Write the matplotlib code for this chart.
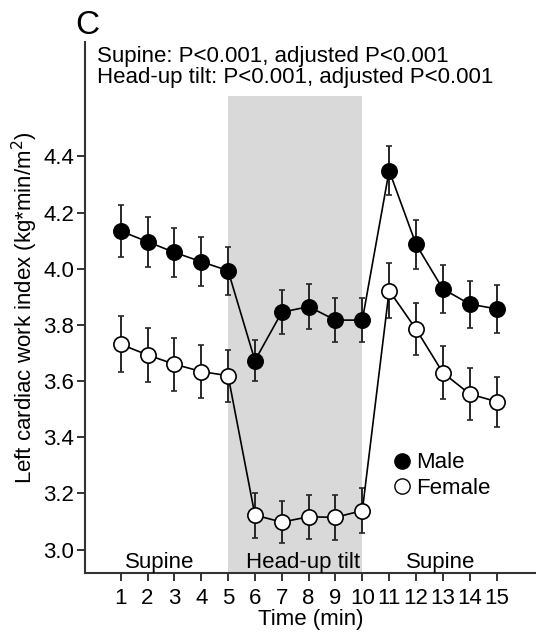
import numpy as np
import matplotlib.pyplot as plt
from matplotlib.lines import Line2D

plt.rcParams['font.family'] = ['Liberation Sans', 'DejaVu Sans']

# Dados
tempo = np.arange(1, 16)
masc = [4.134, 4.096, 4.058, 4.025, 3.993, 3.673, 3.845, 3.865, 3.817, 3.817,
        4.349, 4.087, 3.928, 3.874, 3.857]
masc_err = [0.092, 0.089, 0.088, 0.087, 0.085, 0.074, 0.078, 0.079, 0.079, 0.079,
            0.087, 0.088, 0.086, 0.084, 0.085]
fem = [3.731, 3.693, 3.660, 3.634, 3.619, 3.123, 3.098, 3.117, 3.115, 3.139,
       3.922, 3.785, 3.630, 3.554, 3.527]
fem_err = [0.099, 0.095, 0.095, 0.095, 0.093, 0.080, 0.076, 0.078, 0.080, 0.080,
           0.098, 0.093, 0.094, 0.092, 0.089]

yticks = [3.0, 3.2, 3.4, 3.6, 3.8, 4.0, 4.2, 4.4]
tilt_ini, tilt_fim, tilt_topo = 5, 10, 4.615
fases = ['Supine', 'Head-up tilt', 'Supine']
fases_x = [2.45, 7.8, 12.92]

fig = plt.figure(figsize=(5.36, 6.34), dpi=100)
ax = fig.add_axes([0.1586, 0.0967, 0.8414, 0.8371])
ymin, ymax = 2.918, 4.807
ax.set_xlim(-0.33, 16.47)
ax.set_ylim(ymin, ymax)

# faixa cinza (head-up tilt)
ax.fill_between([tilt_ini, tilt_fim], ymin, tilt_topo, color='#d9d9d9', lw=0, zorder=0)

estilo = dict(color='black', lw=1.2, ms=11, mew=1.2, capsize=2, elinewidth=1.4,
              capthick=1.2, ecolor='#262626', zorder=3)
ax.errorbar(tempo, masc, yerr=masc_err, fmt='-o', mfc='black', mec='black', **estilo)
ax.errorbar(tempo, fem, yerr=fem_err, fmt='-o', mfc='white', mec='black', **estilo)

ax.set_xticks(tempo)
ax.set_yticks(yticks)
ax.set_yticklabels(['%.1f' % v for v in yticks])
ax.tick_params(axis='both', direction='out', length=5.5, width=1.4, labelsize=16, color='#333333')
ax.tick_params(axis='x', pad=5.7)
ax.tick_params(axis='y', pad=2.2)
for s in ['top', 'right']:
    ax.spines[s].set_visible(False)
for s in ['left', 'bottom']:
    ax.spines[s].set_linewidth(1.5)
    ax.spines[s].set_color('#333333')

ax.set_xlabel('Time (min)', fontsize=16, labelpad=-0.5)
ax.set_ylabel('Left cardiac work index (kg*min/m$^2$)', fontsize=16, labelpad=2.5)

for nome, xf in zip(fases, fases_x):
    ax.text(xf, 2.934, nome, fontsize=16, ha='center', va='baseline')

ax.text(0.12, 4.736, 'Supine: P<0.001, adjusted P<0.001', fontsize=16, va='baseline')
ax.text(0.12, 4.661, 'Head-up tilt: P<0.001, adjusted P<0.001', fontsize=16, va='baseline')
fig.text(0.14, 0.96, 'C', fontsize=24, va='center', ha='left')

handles = [Line2D([], [], ls='none', marker='o', ms=11, mfc='black', mec='black'),
           Line2D([], [], ls='none', marker='o', ms=11, mfc='white', mec='black')]
ax.legend(handles, ['Male', 'Female'], loc='center left', bbox_to_anchor=(0.635, 0.183),
          frameon=False, fontsize=16, handletextpad=0.1, labelspacing=0.2,
          handlelength=1.0)

fig.savefig('out.png', dpi=100)
